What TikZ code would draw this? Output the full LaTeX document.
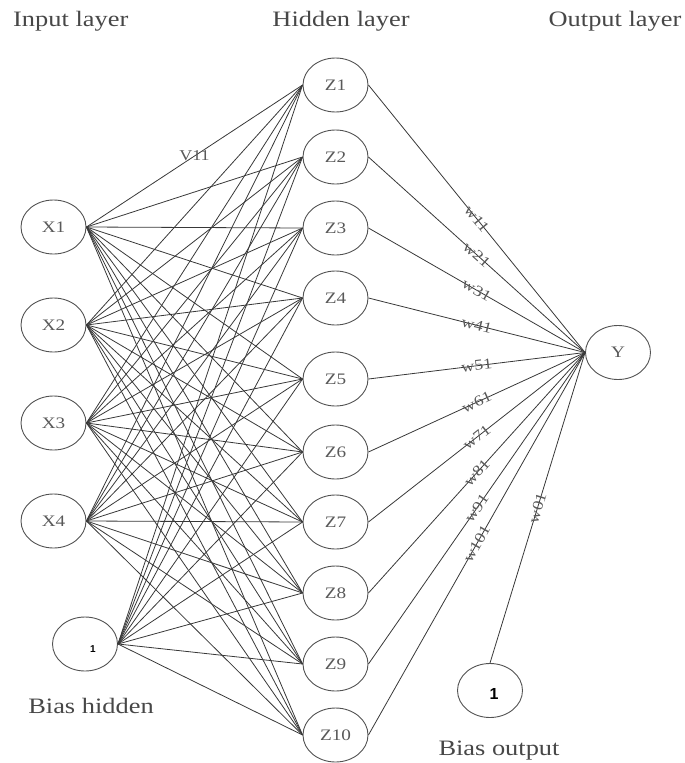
\documentclass[tikz,border=0pt]{standalone}
\usepackage{fontspec}
\setmainfont{Liberation Serif}
\newfontfamily\labfont[FakeStretch=1.2]{Liberation Serif}
\newfontfamily\onefont{Liberation Sans}
\usetikzlibrary{shapes.geometric}
\definecolor{linegray}{gray}{0.22}
\definecolor{nodegray}{gray}{0.32}
\definecolor{textgray}{gray}{0.35}
\definecolor{titlegray}{gray}{0.28}

\begin{document}
\begin{tikzpicture}[x=1pt,y=-1pt,
  neuron/.style={draw=nodegray, line width=0.9pt, ellipse, minimum width=65pt,
    minimum height=54pt, inner sep=0pt, text=textgray,
    font=\labfont\fontsize{16}{16}\selectfont},
  link/.style={draw=linegray, line width=0.8pt},
  title/.style={font=\labfont\fontsize{22}{22}\selectfont, text=titlegray,
    inner sep=0pt, anchor=base},
  weight/.style={font=\labfont\fontsize{15}{15}\selectfont, text=textgray,
    inner sep=0pt, sloped, pos=0.5},
  biasone/.style={font=\onefont\bfseries, text=black, inner sep=0pt}
]
\useasboundingbox (0,0) rectangle (685,763);

% layer titles
\node[title, anchor=base west] (tin) at (13,26) {Input layer};
\node[title] (thid) at (341,26) {Hidden layer};
\node[title] (tout) at (615,26) {Output layer};

% input layer
\node[neuron] (x1) at (53.5,227) {X1};
\node[neuron] (x2) at (53.5,325) {X2};
\node[neuron] (x3) at (53.5,423) {X3};
\node[neuron] (x4) at (53.5,521) {X4};
\node[neuron] (bh) at (85,644) {};
\node[biasone, font=\onefont\bfseries\fontsize{10}{10}\selectfont] (bh1) at (93,649) {1};
\node[title] (bhl) at (91,713) {Bias hidden};

% hidden layer
\foreach \j/\yy in {1/85,2/157,3/228,4/298,5/379,6/452,7/522,8/593,9/664,10/735}
  \node[neuron] (z\j) at (335.5,\yy) {Z\j};

% output layer
\node[neuron] (y) at (618,352.5) {Y};
\node[neuron] (bo) at (490,690.5) {};
\node[biasone, font=\onefont\bfseries\fontsize{16}{16}\selectfont] (bo1) at (494,694) {1};
\node[title] (bol) at (499,755) {Bias output};

% input -> hidden connections
\foreach \i in {1,...,4}
  \foreach \j in {1,...,10}
    \draw[link] (x\i.east) -- (z\j.west);
\foreach \j in {1,...,10}
  \draw[link] (bh.east) -- (z\j.west);
\path (x1.east) -- node[pos=0.5, inner sep=0pt, text=textgray,
  font=\labfont\fontsize{15}{15}\selectfont] (v11) {V11} (z1.west);

% hidden -> output connections
\foreach \j in {1,...,10}
  \draw[link] (z\j.east) -- node[weight] {w\j1} (y.west);
\draw[link] (bo.north) -- node[weight] {w01} (y.west);
\end{tikzpicture}
\end{document}
